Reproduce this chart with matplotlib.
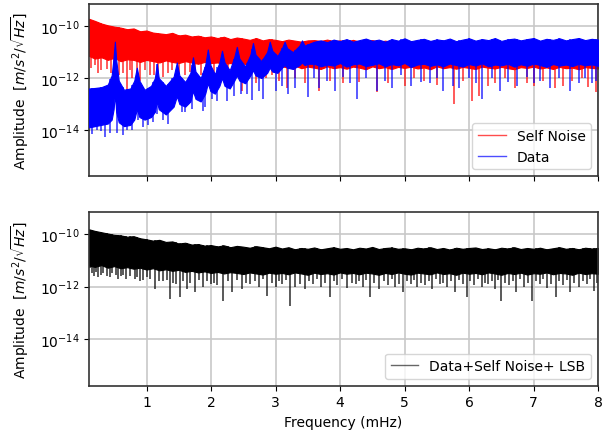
import numpy as np
import matplotlib
matplotlib.use("Agg")
import matplotlib.pyplot as plt
from matplotlib.lines import Line2D
from matplotlib.ticker import NullLocator

# frequency samples (mHz) for the band envelopes
GRID_F = [0.11, 0.2, 0.3, 0.4, 0.5, 0.6, 0.7, 0.8, 0.9, 1.0,
          1.1, 1.2, 1.3, 1.4, 1.5, 1.6, 1.7, 1.8, 1.9, 2.0,
          2.1, 2.2, 2.3, 2.4, 2.5, 2.6, 2.7, 2.8, 2.9, 3.0,
          3.1, 3.2, 3.3, 3.4, 3.5, 3.6, 3.7, 3.8, 3.9, 4.0,
          4.1, 4.2, 4.3, 4.4, 4.5, 4.6, 4.7, 4.8, 4.9, 5.0,
          5.1, 5.2, 5.3, 5.4, 5.5, 5.6, 5.7, 5.8, 5.9, 6.0,
          6.1, 6.2, 6.3, 6.4, 6.5, 6.6, 6.7, 6.8, 6.9, 7.0,
          7.1, 7.2, 7.3, 7.4, 7.5, 7.6, 7.7, 7.8, 7.9, 8.0]

# --- Self Noise (red): log10 amplitude, top / bottom of the dense band
red_hi = [-9.72, -9.80, -9.90, -9.97, -10.02, -10.06, -10.12, -10.09, -10.20, -10.17,
          -10.25, -10.28, -10.31, -10.26, -10.36, -10.33, -10.40, -10.37, -10.43, -10.40,
          -10.46, -10.41, -10.50, -10.44, -10.48, -10.53, -10.46, -10.55, -10.50, -10.53,
          -10.58, -10.52, -10.56, -10.60, -10.55, -10.54, -10.57, -10.52, -10.58, -10.55,
          -10.59, -10.53, -10.60, -10.57, -10.54, -10.60, -10.56, -10.61, -10.58, -10.64,
          -10.60, -10.65, -10.62, -10.58, -10.64, -10.61, -10.66, -10.60, -10.63, -10.59,
          -10.65, -10.62, -10.58, -10.64, -10.61, -10.66, -10.60, -10.63, -10.59, -10.65,
          -10.62, -10.58, -10.64, -10.60, -10.66, -10.61, -10.59, -10.64, -10.60, -10.62]
red_lo = [-11.15, -11.25, -11.20, -11.30, -11.22, -11.35, -11.28, -11.30, -11.38, -11.30,
          -11.35, -11.40, -11.32, -11.38, -11.42, -11.35, -11.40, -11.45, -11.38, -11.42,
          -11.40, -11.46, -11.42, -11.48, -11.44, -11.50, -11.45, -11.48, -11.52, -11.46,
          -11.55, -11.60, -11.52, -11.62, -11.56, -11.60, -11.65, -11.55, -11.62, -11.58,
          -11.64, -11.56, -11.60, -11.66, -11.55, -11.62, -11.58, -11.65, -11.57, -11.61,
          -11.56, -11.63, -11.59, -11.66, -11.55, -11.62, -11.58, -11.64, -11.57, -11.61,
          -11.65, -11.56, -11.60, -11.63, -11.57, -11.62, -11.66, -11.58, -11.61, -11.56,
          -11.63, -11.59, -11.65, -11.57, -11.62, -11.60, -11.66, -11.58, -11.61, -11.63]
red_dip_f = [0.2, 0.3, 0.45, 0.58, 0.69, 0.78, 0.9, 1.05, 1.25, 1.6, 1.75, 2.05, 2.48,
             2.7, 3.18, 3.68, 4.05, 4.58, 5.0, 5.3, 5.77, 6.05, 6.16, 6.4, 6.71, 7.0,
             7.33, 7.6, 7.84, 7.97,
             0.14, 0.25, 0.38, 0.5, 0.63, 0.74, 0.85, 0.97, 1.12, 1.18, 1.33, 1.4, 1.5,
             1.68, 1.85, 1.95, 2.15, 2.27, 2.38, 2.58, 2.85, 2.95, 3.05, 3.3, 3.45,
             3.85, 4.3, 4.75, 5.15, 5.5, 5.9, 6.3, 6.55, 6.9, 7.15, 7.45, 7.75]
red_dip = [-11.5, -11.7, -11.8, -11.9, -12.65, -12.0, -12.1, -11.9, -11.95, -11.9, -12.0,
           -12.1, -12.5, -12.2, -12.4, -12.5, -12.2, -12.55, -12.3, -12.1, -13.0, -12.9,
           -12.7, -12.2, -12.4, -12.3, -12.4, -12.1, -12.35, -12.55,
           -11.6, -11.8, -11.65, -11.75, -11.8, -11.7, -11.85, -11.7, -11.9, -11.75,
           -11.8, -11.7, -11.85, -11.75, -11.9, -11.8, -11.85, -11.9, -11.8, -12.0,
           -12.0, -11.9, -12.1, -12.0, -12.2,
           -12.1, -12.15, -12.2, -12.0, -12.25, -12.1, -12.3, -12.0, -12.2, -12.1,
           -12.3, -12.0]

# --- Data (blue): comb of lines below 3.5 mHz, then flat noise
blue_f = [0.11, 0.20, 0.30, 0.40, 0.46, 0.49, 0.51, 0.53, 0.57, 0.65, 0.75, 0.81, 0.85,
          0.89, 0.97, 1.07, 1.13, 1.16, 1.19, 1.30, 1.42, 1.47, 1.51, 1.60, 1.68, 1.72,
          1.76, 1.84, 1.91, 1.95, 1.99, 2.06, 2.13, 2.17, 2.21, 2.29, 2.36, 2.40, 2.44,
          2.53, 2.61, 2.65, 2.69, 2.78, 2.87, 2.91, 2.95, 3.03, 3.10, 3.14, 3.18, 3.27,
          3.37, 3.41, 3.45, 3.50,
          3.6, 3.7, 3.8, 3.9, 4.0, 4.1, 4.2, 4.3, 4.4, 4.5,
          4.6, 4.7, 4.8, 4.9, 5.0, 5.1, 5.2, 5.3, 5.4, 5.5,
          5.6, 5.7, 5.8, 5.9, 6.0, 6.1, 6.2, 6.3, 6.4, 6.5,
          6.6, 6.7, 6.8, 6.9, 7.0, 7.1, 7.2, 7.3, 7.4, 7.5,
          7.6, 7.7, 7.8, 7.9, 8.0]
blue_hi = [-12.40, -12.38, -12.35, -12.25, -11.90, -11.20, -10.60, -11.30, -12.10, -12.45,
           -12.40, -12.10, -11.60, -12.10, -12.45, -12.30, -12.00, -11.45, -12.00, -12.30,
           -11.95, -11.40, -11.90, -12.15, -11.80, -11.20, -11.75, -12.00, -11.50, -10.90,
           -11.50, -11.85, -11.40, -10.95, -11.40, -11.70, -11.20, -10.80, -11.25, -11.55,
           -11.10, -10.65, -11.10, -11.35, -11.00, -10.60, -10.95, -11.15, -10.85, -10.60,
           -10.85, -11.00, -10.75, -10.55, -10.75, -10.70,
           -10.60, -10.55, -10.62, -10.52, -10.58, -10.50, -10.60, -10.54, -10.48, -10.57,
           -10.52, -10.60, -10.50, -10.56, -10.47, -10.58, -10.53, -10.49, -10.57, -10.51,
           -10.55, -10.48, -10.58, -10.52, -10.47, -10.56, -10.50, -10.54, -10.46, -10.57,
           -10.51, -10.48, -10.55, -10.50, -10.46, -10.56, -10.49, -10.53, -10.47, -10.55,
           -10.50, -10.46, -10.54, -10.49, -10.52]
blue_lo = [-13.90, -13.85, -13.80, -13.75, -13.60, -13.20, -12.60, -13.30, -13.70, -13.85,
           -13.80, -13.60, -13.20, -13.50, -13.60, -13.50, -13.30, -12.90, -13.20, -13.40,
           -13.10, -12.70, -13.00, -13.10, -12.90, -12.50, -12.80, -12.90, -12.60, -12.20,
           -12.50, -12.60, -12.30, -12.00, -12.30, -12.40, -12.10, -11.90, -12.10, -12.20,
           -11.90, -11.70, -11.90, -12.00, -11.80, -11.60, -11.75, -11.80, -11.60, -11.50,
           -11.60, -11.65, -11.50, -11.40, -11.50, -11.45,
           -11.45, -11.55, -11.48, -11.52, -11.42, -11.56, -11.47, -11.44, -11.54, -11.49,
           -11.43, -11.55, -11.46, -11.51, -11.42, -11.57, -11.48, -11.45, -11.53, -11.47,
           -11.55, -11.44, -11.50, -11.56, -11.46, -11.52, -11.43, -11.55, -11.48, -11.51,
           -11.45, -11.56, -11.47, -11.53, -11.44, -11.50, -11.57, -11.46, -11.52, -11.48,
           -11.54, -11.45, -11.51, -11.47, -11.53]
blue_dip_f = [0.15, 0.2, 0.24, 0.35, 0.44, 0.63, 0.7, 0.87, 1.02, 1.16, 1.4, 1.6, 1.87,
              1.90, 2.02, 2.24, 2.47, 2.63, 2.8, 3.0, 3.2, 3.5, 3.68, 3.92, 4.26, 4.57,
              4.8, 5.1, 5.4, 5.6, 5.85, 6.2, 6.48, 6.75, 7.0, 7.25, 7.57, 7.9,
              0.3, 0.55, 0.78, 0.95, 1.1, 1.25, 1.33, 1.55, 1.7, 2.1, 2.35, 2.55, 2.75,
              3.1, 3.3, 3.6, 3.8, 4.05, 4.15, 4.4, 4.7, 4.95, 5.25, 5.5, 5.75, 6.0, 6.1,
              6.35, 6.6, 6.9, 7.1, 7.4, 7.7, 7.8, 7.97]
blue_dip = [-14.15, -13.9, -14.0, -14.27, -14.1, -14.2, -14.0, -13.6, -13.8, -13.4, -13.2,
            -13.3, -13.25, -13.1, -12.8, -12.9, -12.6, -12.85, -12.8, -12.5, -12.6, -12.73,
            -12.4, -12.5, -12.8, -12.5, -12.4, -12.3, -12.2, -12.5, -12.4, -12.8, -12.5,
            -12.3, -12.2, -12.4, -12.5, -12.2,
            -14.05, -14.1, -14.0, -13.9, -13.7, -13.6, -13.75, -13.3, -13.2, -12.9, -12.7,
            -12.6, -12.5, -12.3, -12.4, -12.0, -12.1, -11.95, -12.2, -12.0, -12.1, -11.9,
            -12.15, -12.0, -12.3, -12.0, -12.2, -12.0, -12.15, -11.95, -12.1, -12.0,
            -12.2, -12.0, -12.1]

# --- Data + Self Noise + LSB (black)
black_hi = [-9.82, -9.88, -9.93, -9.98, -10.03, -10.05, -10.10, -10.08, -10.16, -10.20,
            -10.25, -10.22, -10.30, -10.28, -10.36, -10.33, -10.40, -10.38, -10.44, -10.42,
            -10.47, -10.43, -10.50, -10.45, -10.48, -10.52, -10.46, -10.50, -10.54, -10.48,
            -10.55, -10.50, -10.58, -10.53, -10.56, -10.51, -10.58, -10.54, -10.50, -10.56,
            -10.53, -10.58, -10.52, -10.55, -10.49, -10.57, -10.53, -10.51, -10.56, -10.54,
            -10.58, -10.52, -10.55, -10.50, -10.57, -10.53, -10.59, -10.52, -10.56, -10.53,
            -10.51, -10.57, -10.54, -10.58, -10.52, -10.55, -10.50, -10.57, -10.53, -10.56,
            -10.52, -10.58, -10.54, -10.50, -10.56, -10.53, -10.58, -10.52, -10.55, -10.53]
black_lo = [-11.20, -11.25, -11.18, -11.28, -11.22, -11.30, -11.26, -11.32, -11.28, -11.35,
            -11.30, -11.38, -11.34, -11.40, -11.36, -11.44, -11.40, -11.46, -11.42, -11.48,
            -11.44, -11.50, -11.45, -11.48, -11.52, -11.46, -11.50, -11.54, -11.47, -11.51,
            -11.48, -11.53, -11.46, -11.50, -11.55, -11.47, -11.52, -11.49, -11.54, -11.46,
            -11.51, -11.48, -11.53, -11.47, -11.50, -11.55, -11.48, -11.52, -11.46, -11.51,
            -11.54, -11.47, -11.50, -11.53, -11.46, -11.52, -11.49, -11.55, -11.47, -11.51,
            -11.48, -11.53, -11.46, -11.50, -11.55, -11.48, -11.52, -11.47, -11.54, -11.49,
            -11.51, -11.46, -11.53, -11.48, -11.50, -11.55, -11.47, -11.52, -11.49, -11.51]
black_dip_f = [0.12, 0.18, 0.25, 0.33, 0.43, 0.52, 0.6, 0.68, 0.82, 0.9, 1.0, 1.13, 1.2,
               1.36, 1.45, 1.52, 1.62, 1.75, 1.87, 2.0, 2.1, 2.19, 2.33, 2.48, 2.6, 2.75,
               2.87, 3.0, 3.1, 3.22, 3.3, 3.45, 3.58, 3.7, 3.84, 3.95, 4.1, 4.25, 4.35,
               4.46, 4.6, 4.75, 4.85, 4.97, 5.1, 5.2, 5.32, 5.43, 5.55, 5.66, 5.78, 5.96,
               6.08, 6.2, 6.3, 6.4, 6.5, 6.62, 6.73, 6.85, 6.97, 7.1, 7.2, 7.35, 7.45,
               7.57, 7.7, 7.82, 7.93,
               0.15, 0.22, 0.29, 0.38, 0.47, 0.56, 0.64, 0.75, 0.86, 0.95, 1.06, 1.25,
               1.31, 1.41, 1.57, 1.68, 1.81, 1.93, 2.05, 2.26, 2.4, 2.54, 2.68, 2.81,
               2.94, 3.05, 3.16, 3.38, 3.52, 3.64, 3.77, 3.9, 4.03, 4.18, 4.3, 4.4, 4.53,
               4.68, 4.8, 4.92, 5.04, 5.15, 5.26, 5.38, 5.49, 5.6, 5.72, 5.85, 5.9, 6.02,
               6.14, 6.25, 6.35, 6.45, 6.56, 6.68, 6.79, 6.91, 7.03, 7.15, 7.27, 7.4,
               7.51, 7.63, 7.76, 7.87, 7.98]
black_dip = [-11.3, -11.6, -11.65, -11.5, -11.64, -11.55, -11.6, -11.7, -11.7, -11.8,
             -11.65, -12.1, -11.8, -12.48, -11.9, -12.4, -12.1, -12.2, -12.0, -11.9,
             -11.95, -12.55, -12.2, -12.1, -11.9, -12.0, -12.36, -12.0, -11.9, -12.74,
             -12.0, -12.1, -11.9, -12.0, -12.4, -11.95, -12.05, -11.9, -12.0, -12.4,
             -12.1, -11.95, -12.0, -12.2, -11.9, -12.0, -11.95, -12.1, -11.9, -12.0,
             -12.2, -12.4, -11.95, -12.0, -11.9, -12.1, -12.55, -11.95, -12.2, -12.0,
             -12.55, -11.9, -12.05, -12.4, -11.95, -12.2, -12.0, -11.9, -12.15,
             -11.5, -11.45, -11.55, -11.6, -11.5, -11.7, -11.55, -11.6, -11.65, -11.75,
             -11.7, -11.8, -11.75, -11.85, -11.8, -11.85, -11.75, -11.8, -11.85, -11.8,
             -11.75, -11.85, -11.8, -11.7, -11.85, -11.8, -11.75, -11.9, -11.8, -11.72,
             -11.85, -11.8, -11.7, -11.88, -11.8, -11.75, -11.85, -11.78, -11.72, -11.9,
             -11.8, -11.75, -11.85, -11.8, -11.7, -11.88, -11.8, -11.75, -11.9, -11.8,
             -11.72, -11.85, -11.8, -11.75, -11.88, -11.8, -11.7, -11.85, -11.78, -11.72,
             -11.9, -11.8, -11.75, -11.85, -11.8, -11.72, -11.88]

YLIM = (10 ** -15.77, 10 ** -9.15)


def draw_band(ax, f, hi, lo, dip_f, dip, color, z):
    f = np.asarray(f)
    hi = np.asarray(hi)
    ax.fill_between(f, 10.0 ** np.asarray(lo), 10.0 ** hi, color=color,
                    lw=0.8, zorder=z)
    top = 10.0 ** np.interp(dip_f, f, hi)
    ax.vlines(dip_f, 10.0 ** np.asarray(dip), top, color=color, alpha=0.65,
              lw=1.4, zorder=z - 0.5)


def style(ax):
    ax.set_yscale("log")
    ax.set_xlim(0.11, 8)
    ax.set_ylim(*YLIM)
    ax.set_yticks([1e-10, 1e-12, 1e-14])
    ax.yaxis.set_minor_locator(NullLocator())
    ax.set_xticks(range(1, 9))
    ax.set_axisbelow(True)
    ax.grid(True, color="#c8c8c8", lw=1.2)
    for sp in ax.spines.values():
        sp.set_color("#333333")
        sp.set_linewidth(1.2)
    ax.tick_params(labelsize=10)
    ax.set_ylabel(r"Amplitude  $[m/s^2/\sqrt{Hz}]$", fontsize=10, labelpad=6)


fig = plt.figure(figsize=(6.06, 4.35), dpi=100)
ax1 = fig.add_axes([0.147, 0.593, 0.84, 0.3955])
ax2 = fig.add_axes([0.147, 0.111, 0.84, 0.400])

draw_band(ax1, GRID_F, red_hi, red_lo, red_dip_f, red_dip, "red", 2)
draw_band(ax1, blue_f, blue_hi, blue_lo, blue_dip_f, blue_dip, "blue", 4)
style(ax1)
ax1.tick_params(labelbottom=False)
ax1.legend(handles=[Line2D([], [], color="red", alpha=0.7, lw=1, label="Self Noise"),
                    Line2D([], [], color="blue", alpha=0.7, lw=1, label="Data")],
           loc="lower right", fontsize=10)

draw_band(ax2, GRID_F, black_hi, black_lo, black_dip_f, black_dip, "black", 2)
style(ax2)
ax2.set_xlabel("Frequency (mHz)", fontsize=10)
ax2.legend(handles=[Line2D([], [], color="black", alpha=0.6, lw=1,
                           label="Data+Self Noise+ LSB")],
           loc="lower right", fontsize=10)

fig.savefig("out.png", dpi=100)
